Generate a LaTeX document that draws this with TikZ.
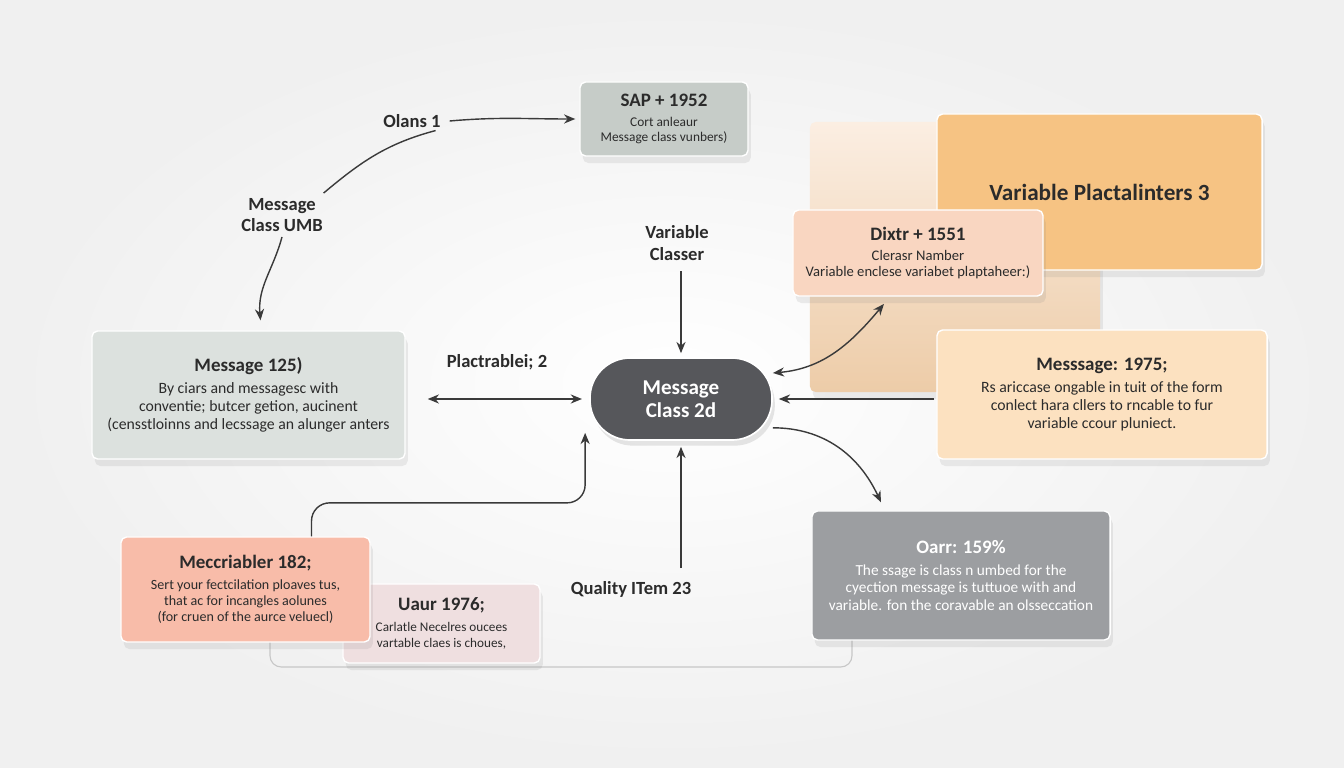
\documentclass[tikz,border=0pt]{standalone}
\usepackage{fontspec}
\setmainfont{Carlito}
\usepackage{xcolor}
\usepackage{tikz}
\usetikzlibrary{arrows.meta,positioning,shadows}

\definecolor{inkgray}{HTML}{2B2B2B}
\definecolor{linegray}{HTML}{3A3A3A}
\definecolor{sapgray}{HTML}{C6CCC8}
\definecolor{msggray}{HTML}{DCE1DE}
\definecolor{hubgray}{HTML}{56575B}
\definecolor{oarrgray}{HTML}{9C9EA1}
\definecolor{plorange}{HTML}{F6C383}
\definecolor{dixpeach}{HTML}{F9D6C1}
\definecolor{crmpeach}{HTML}{FCE1C0}
\definecolor{salmon}{HTML}{F8BCA9}
\definecolor{rosegray}{HTML}{EFDFE0}
\definecolor{paneltop}{HTML}{FBEEE2}
\definecolor{panelbot}{HTML}{EDCCA8}

\newcommand{\hd}[1]{{\bfseries\fontsize{13.5}{16}\selectfont #1}\\[3pt]}

\begin{document}
\begin{tikzpicture}[x=0.025cm, y=-0.025cm,
    card/.style={rectangle, rounded corners=4pt, draw=white, line width=1pt, align=center, text=inkgray,
        font=\fontsize{11.2}{12.8}\selectfont,
        drop shadow={opacity=0.14, shadow xshift=2pt, shadow yshift=-5pt}},
    hub/.style={rectangle, rounded corners=1cm, fill=hubgray, draw=white, line width=1.2pt, text=white, align=center,
        font=\bfseries\fontsize{15}{16}\selectfont, minimum width=4.55cm, minimum height=2.05cm,
        drop shadow={opacity=0.2, shadow xshift=2pt, shadow yshift=-4pt}},
    lbl/.style={align=center, text=inkgray, font=\bfseries\fontsize{13.2}{15.5}\selectfont},
    arrow/.style={draw=linegray, line width=1pt, ->, >={Stealth[length=8pt,width=6.5pt]}},
    link/.style={draw=linegray, line width=1pt}
]
\useasboundingbox (0,0) rectangle (1344,768);

% Background
\fill[white] (0,0) rectangle (1344,768);
\shade[inner color=white, outer color=black!6] (0,0) rectangle (1344,768);
\draw[black!22, line width=0.8pt, rounded corners=8pt] (270,640) -- (270,667) -- (852,667) -- (852,638);

% Right group
\node[card, draw=none, top color=paneltop, bottom color=panelbot, minimum width=7.25cm, minimum height=6.75cm] (panel) at (955,257) {};
\node[card, fill=plorange, minimum width=8.125cm, minimum height=3.9cm, font=\bfseries\fontsize{16.5}{20}\selectfont] (varplac) at (1099.5,192) {Variable Plactalinters 3};
\node[card, fill=dixpeach, minimum width=6.25cm, minimum height=2.15cm, font=\fontsize{10.4}{11.6}\selectfont] (dixtr) at (918,253) {\hd{Dixtr + 1551}Clerasr Namber\\Variable enclese variabet plaptaheer:)};
\node[card, fill=crmpeach, minimum width=8.25cm, minimum height=3.225cm, font=\fontsize{11.2}{12.6}\selectfont] (messager) at (1102,394.5) {\hd{Messsage: 1975;}Rs ariccase ongable in tuit of the form\\conlect hara cllers to rncable to fur\\variable ccour pluniect.};
\node[card, fill=oarrgray, text=white, minimum width=7.45cm, minimum height=3.225cm, font=\fontsize{10.9}{12.5}\selectfont] (oarr) at (961,575.5) {\hd{Oarr: 159\%}The ssage is class n umbed for the\\cyection message is tuttuoe with and\\variable. fon the coravable an olsseccation};

% Left group
\node[card, fill=sapgray, minimum width=4.2cm, minimum height=1.85cm, font=\fontsize{9.5}{10.8}\selectfont] (sap) at (664,119) {\hd{SAP + 1952}Cort anleaur\\Message class vunbers)};
\node[card, fill=msggray, minimum width=7.825cm, minimum height=3.2cm] (msg) at (248.5,395) {\hd{Message 125)}By ciars and messagesc with\\conventie; butcer getion, aucinent\\(censstloinns and lecssage an alunger anters};
\node[card, fill=rosegray, minimum width=4.925cm, minimum height=1.975cm, font=\fontsize{9.4}{11.5}\selectfont] (uaur) at (441.5,623.5) {\hd{Uaur 1976;}Carlatle Necelres oucees\\vartable claes is choues,};
\node[card, fill=salmon, minimum width=6.225cm, minimum height=2.625cm, font=\fontsize{10}{11.5}\selectfont] (meccr) at (245.5,589.5) {\hd{Meccriabler 182;}Sert your fectcilation ploaves tus,\\that ac for incangles aolunes\\(for cruen of the aurce veluecl)};

% Center
\node[hub] (hub) at (681,399) {Message\\Class 2d};

% Free labels
\node[lbl] (olans) at (412,121) {Olans 1};
\node[lbl] (msgclass) at (282,215) {Message\\Class UMB};
\node[lbl] (varclasser) at (677,243) {Variable\\Classer};
\node[lbl] (plact) at (497,362) {Plactrablei; 2};
\node[lbl] (quality) at (631,589) {Quality ITem 23};

% Connectors
\draw[arrow] ([xshift=0.1cm]olans.east) to[out=5,in=180] ([xshift=-0.1cm]sap.west);
\draw[link] ([xshift=-0.25cm,yshift=0.05cm]olans.south east) to[out=195,in=40] ([xshift=-0.1cm]msgclass.north east);
\draw[arrow] (msgclass.south) to[out=255,in=95] ([xshift=0.3cm,yshift=0.25cm]msg.north);
\draw[arrow] ([yshift=-0.15cm]varclasser.south -| hub.north) -- ([yshift=0.1cm]hub.north);
\draw[arrow, <->] ([xshift=0.55cm]msg.east |- hub.west) -- ([xshift=-0.18cm]hub.west);
\draw[arrow, rounded corners=0.45cm] ([xshift=1.65cm]meccr.north) |- ([xshift=-0.1cm,yshift=-1.55cm]hub.south west) -- ([xshift=-0.1cm,yshift=0.2cm]hub.south west);
\draw[arrow] ([yshift=0.2cm]quality.north -| hub.south) -- ([yshift=-0.15cm]hub.south);
\draw[arrow, <->] ([yshift=0.65cm]hub.east) to[out=5,in=230] ([xshift=-0.85cm,yshift=-0.18cm]dixtr.south);
\draw[arrow] ([xshift=-0.05cm]messager.west |- hub.east) -- ([xshift=0.15cm]hub.east);
\draw[arrow] ([yshift=-0.72cm]hub.east) to[out=0,in=115] ([xshift=-2cm,yshift=0.2cm]oarr.north);

\end{tikzpicture}
\end{document}
